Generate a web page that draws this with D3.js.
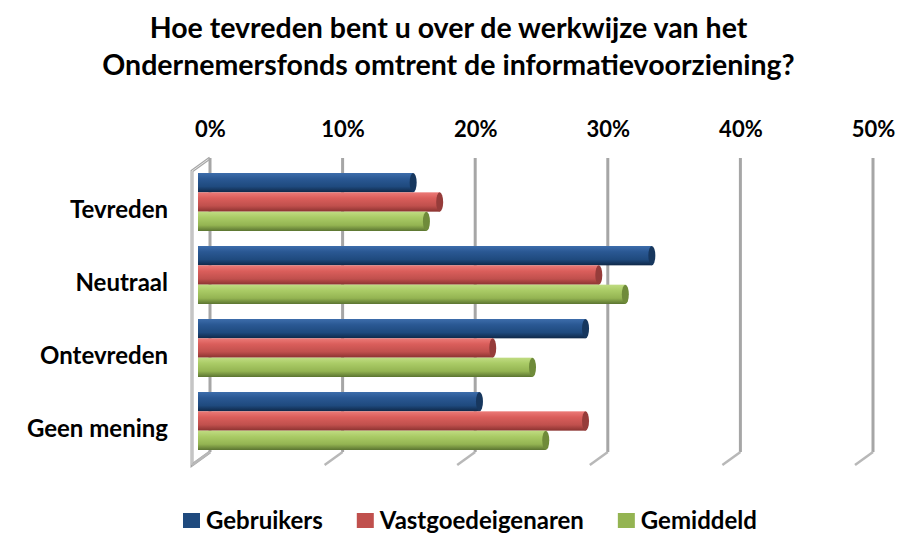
<!DOCTYPE html>
<html>
<head>
<meta charset="utf-8">
<script src="https://cdn.jsdelivr.net/npm/d3@7"></script>
<style>
  body { margin: 0; background: #fff; }
  svg text { font-family: Lato, "Open Sans", sans-serif; font-weight: bold; fill: #000; }
</style>
</head>
<body>
<div id="chart"></div>
<script>
var width = 897;
var height = 533;

// data
var categories = ["Tevreden", "Neutraal", "Ontevreden", "Geen mening"];
var series = ["Gebruikers", "Vastgoedeigenaren", "Gemiddeld"];
var gebruikers = [16, 34, 29, 21];
var vastgoedeigenaren = [18, 30, 22, 29];
var gemiddeld = [17, 32, 25, 26];
var tickValues = [0, 10, 20, 30, 40, 50];
var titleLines = ["Hoe tevreden bent u over de werkwijze van het",
                  "Ondernemersfonds omtrent de informatievoorziening?"];

var values = [gebruikers, vastgoedeigenaren, gemiddeld];
var colors = [
  ["#3d6dab", "#2a5893", "#1f4a7e", "#0f2848"],
  ["#ec7a77", "#da5e5b", "#c0504d", "#8a3230"],
  ["#c0dc82", "#aacb66", "#94b452", "#5b7431"]
];
var capColors = ["#17375e", "#963c3a", "#6f8b3a"];

var svg = d3.select('#chart').append('svg')
    .attr('width', width)
    .attr('height', height);

var defs = svg.append('defs');
colors.forEach(function(c, i) {
  var g = defs.append('linearGradient')
      .attr('id', 'grad' + i)
      .attr('x1', 0).attr('y1', 0).attr('x2', 0).attr('y2', 1);
  g.append('stop').attr('offset', '0%').attr('stop-color', c[0]);
  g.append('stop').attr('offset', '30%').attr('stop-color', c[1]);
  g.append('stop').attr('offset', '70%').attr('stop-color', c[2]);
  g.append('stop').attr('offset', '100%').attr('stop-color', c[3]);
});

// back wall scale (gridlines) and bar scale (bars sit a bit in front)
var depthX = 18, depthY = 13;
var xBack = d3.scaleLinear().domain([0, 50]).range([210, 873]);
var xBar = d3.scaleLinear().domain([0, 50]).range([201, 864]);
var yTop = 158, yFloor = 452;

var yGroup = d3.scaleBand().domain(categories).range([165.5, 457.5]);
var ySeries = d3.scaleBand().domain(series).range([7.5, 65.5]);

// title
svg.append('g').selectAll('text')
    .data(titleLines)
    .enter().append('text')
    .attr('x', width / 2)
    .attr('y', function(d, i) { return 38 + i * 37; })
    .attr('text-anchor', 'middle')
    .style('font-size', '28.5px')
    .text(function(d) { return d; });

// left wall
var wall = 'M' + xBack(0) + ',' + yTop + 'L' + (xBack(0) - depthX) + ',' + (yTop + depthY) +
           'L' + (xBack(0) - depthX) + ',' + (yFloor + depthY) + 'L' + xBack(0) + ',' + yFloor;
svg.append('path')
    .attr('d', wall)
    .attr('fill', 'none')
    .attr('stroke', '#a6a6a6')
    .attr('stroke-width', 3);
svg.append('path')
    .attr('d', wall)
    .attr('fill', 'none')
    .attr('stroke', '#e4e4e4')
    .attr('stroke-width', 1);

// gridlines on the back wall and their floor feet
var grid = svg.append('g');
grid.selectAll('line.v')
    .data(tickValues)
    .enter().append('line')
    .attr('class', 'v')
    .attr('x1', function(d) { return xBack(d); })
    .attr('x2', function(d) { return xBack(d); })
    .attr('y1', yTop)
    .attr('y2', yFloor)
    .attr('stroke', '#a6a6a6')
    .attr('stroke-width', 3);
grid.selectAll('line.f')
    .data(tickValues)
    .enter().append('line')
    .attr('class', 'f')
    .attr('x1', function(d) { return xBack(d); })
    .attr('x2', function(d) { return xBack(d) - depthX; })
    .attr('y1', yFloor)
    .attr('y2', yFloor + depthY)
    .attr('stroke', '#b8b8b8')
    .attr('stroke-width', 2.5);

// axis labels on top
var xAxis = svg.append('g')
    .attr('transform', 'translate(0,140)')
    .call(d3.axisTop(xBack).tickValues(tickValues)
          .tickFormat(function(d) { return d + '%'; })
          .tickSize(0).tickPadding(3));
xAxis.select('.domain').remove();
xAxis.selectAll('text').style('font-size', '22px').attr('fill', '#000');

// category labels
var yAxis = svg.append('g')
    .attr('transform', 'translate(168,8)')
    .call(d3.axisLeft(yGroup).tickSize(0).tickPadding(0));
yAxis.select('.domain').remove();
yAxis.selectAll('text').style('font-size', '24px').attr('fill', '#000');

// cylinders
var bars = svg.append('g');
categories.forEach(function(cat, ci) {
  series.forEach(function(s, si) {
    var v = values[si][ci];
    var y = yGroup(cat) + ySeries(s);
    var h = ySeries.bandwidth();
    bars.append('rect')
        .attr('x', xBar(0) - 3)
        .attr('y', y)
        .attr('width', xBar(v) - xBar(0) + 3)
        .attr('height', h)
        .attr('fill', 'url(#grad' + si + ')');
    bars.append('ellipse')
        .attr('cx', xBar(v))
        .attr('cy', y + h / 2)
        .attr('rx', 3.5)
        .attr('ry', h / 2)
        .attr('fill', capColors[si]);
  });
});

// legend
var legend = svg.append('g').attr('transform', 'translate(183,513)');
var lx = 0;
series.forEach(function(s, i) {
  var item = legend.append('g').attr('transform', 'translate(' + lx + ',0)');
  item.append('rect')
      .attr('width', 17).attr('height', 15)
      .attr('fill', colors[i][2]);
  var t = item.append('text')
      .attr('x', 23).attr('y', 16)
      .style('font-size', '24px')
      .text(s);
  lx += 23 + t.node().getComputedTextLength() + 34;
});
</script>
</body>
</html>
